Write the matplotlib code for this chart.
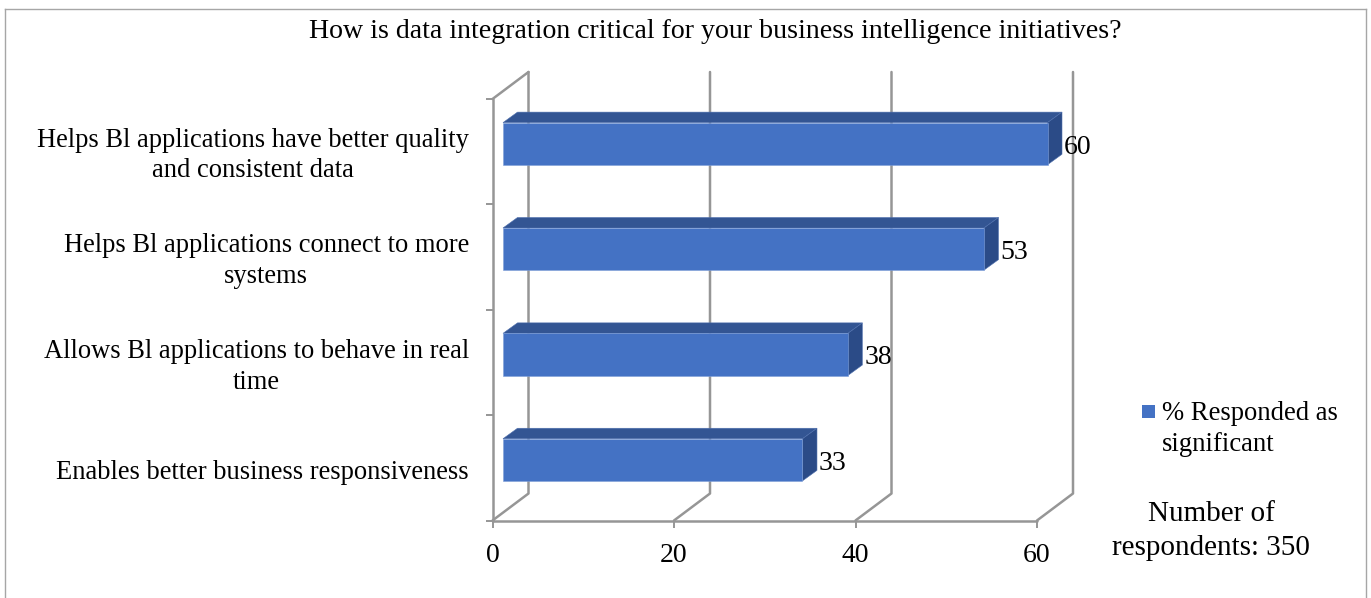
import matplotlib
matplotlib.use("Agg")
import matplotlib.pyplot as plt
from matplotlib.legend_handler import HandlerPatch
from matplotlib.lines import Line2D
from matplotlib.patches import Patch, Polygon, Rectangle
from matplotlib.transforms import ScaledTranslation

plt.rcParams["font.family"] = ["Liberation Serif", "DejaVu Serif"]

title = "How is data integration critical for your business intelligence initiatives?"
categories = [
    "Enables better business responsiveness",
    "Allows Bl applications to behave in real\ntime",
    "Helps Bl applications connect to more\nsystems",
    "Helps Bl applications have better quality\nand consistent data",
]
values = [33, 38, 53, 60]
x_ticks = [0, 20, 40, 60]
series_name = "% Responded as\nsignificant"
note = "Number of\nrespondents: 350"

W, H = 1371, 598
fig = plt.figure(figsize=(W / 100, H / 100), dpi=100)

# outer frame, no bottom edge in the original
for xs, ys in [((5, 5), (598, 9)), ((5, 1366), (9, 9)), ((1366, 1366), (9, 598))]:
    fig.add_artist(Line2D([x / W for x in xs], [1 - y / H for y in ys],
                          color="#a6a6a6", lw=1.0))

# front plane of the fake 3D box
left, right, top, bottom = 492.5, 1037, 99, 520.5
ax = fig.add_axes([left / W, 1 - bottom / H, (right - left) / W, (bottom - top) / H])
ax.set_xlim(0, 60)
ax.set_ylim(0, 4)
ax.patch.set_visible(False)
for s in ax.spines.values():
    s.set_visible(False)

px_x = 60 / (right - left)
px_y = 4 / (bottom - top)
# wall depth and bar depth, in data units
wall_dx, wall_dy = 36 * px_x, 27 * px_y
bar_dx, bar_dy = 14.5 * px_x, 10.5 * px_y
bar_x0, bar_y0 = 10.5 * px_x, 8 * px_y
bar_h = 0.4

grid = dict(color="#969696", lw=1.8, clip_on=False, zorder=1, solid_capstyle="round")
ax.plot([0, 0], [0, 4], **grid)
ax.plot([0, 60], [0, 0], **grid)
ax.plot([0, wall_dx], [4, 4 + wall_dy], **grid)
for t in x_ticks:
    ax.plot([t, t + wall_dx, t + wall_dx], [0, wall_dy, 4 + wall_dy], **grid)

for i, v in enumerate(values):
    x0 = bar_x0
    x1 = bar_x0 + v
    y0 = i + 0.5 + bar_y0 - bar_h / 2
    y1 = y0 + bar_h
    ax.add_patch(Polygon([(x0, y1), (x1, y1), (x1 + bar_dx, y1 + bar_dy), (x0 + bar_dx, y1 + bar_dy)],
                         closed=True, facecolor="#335593", edgecolor="#4F70AE", lw=0.4,
                         clip_on=False, zorder=3))
    ax.add_patch(Polygon([(x1, y0), (x1 + bar_dx, y0 + bar_dy), (x1 + bar_dx, y1 + bar_dy), (x1, y1)],
                         closed=True, facecolor="#2B4B87", edgecolor="#4F70AE", lw=0.4,
                         clip_on=False, zorder=3))
    ax.add_patch(Polygon([(x0, y0), (x1, y0), (x1, y1), (x0, y1)], closed=True,
                         facecolor="#4472C4", edgecolor="#7F9FD8", lw=0.4,
                         clip_on=False, zorder=3))
    ax.annotate(str(v), xy=(x1 + bar_dx, i + 0.5), xytext=(2, 4.5), textcoords="offset pixels",
                ha="left", va="center", fontsize=20, color="black", zorder=5,
                annotation_clip=False)

ax.set_xticks(x_ticks)
ax.tick_params(axis="x", length=5, width=1.4, color="#969696", pad=11, labelsize=20)
ax.set_yticks(range(5))
ax.set_yticklabels([])
ax.tick_params(axis="y", which="major", length=5, width=1.4, color="#969696")
ax.set_yticks([i + 0.5 for i in range(4)], minor=True)
ax.set_yticklabels(categories, minor=True, fontsize=19.1, ha="right", ma="center", linespacing=1.3)
ax.tick_params(axis="y", which="minor", length=0, pad=17)

# small vertical nudges so the labels sit where the original has them (pixels, + is up)
for lab, nudge in zip(ax.get_yticklabels(minor=True), [-2, 1.5, 2, 2]):
    lab.set_transform(lab.get_transform() + ScaledTranslation(0, nudge / 100, fig.dpi_scale_trans))

fig.text(715 / W, 1 - 32 / H, title, ha="center", va="center", fontsize=20.1)
fig.text(1211 / W, 1 - 531 / H, note, ha="center", va="center", fontsize=21, linespacing=1.38)


def square_marker(legend, orig_handle, xdescent, ydescent, width, height, fontsize):
    # marker sits beside the first text line, not the middle of the block
    size = 9.4
    return Rectangle((width - size - xdescent, height - ydescent + 1.2), size, size)


handle = Patch(facecolor="#4472C4", edgecolor="none")
leg = fig.legend([handle], [series_name], loc="center left",
                 bbox_to_anchor=(1136 / W, 1 - 429 / H), frameon=False, fontsize=19.2,
                 handlelength=0.7, handleheight=0.7, handletextpad=0.27,
                 borderpad=0, borderaxespad=0, labelspacing=0,
                 handler_map={Patch: HandlerPatch(patch_func=square_marker)})
leg.get_texts()[0].set_linespacing(1.33)

fig.savefig("out.png", dpi=100)
